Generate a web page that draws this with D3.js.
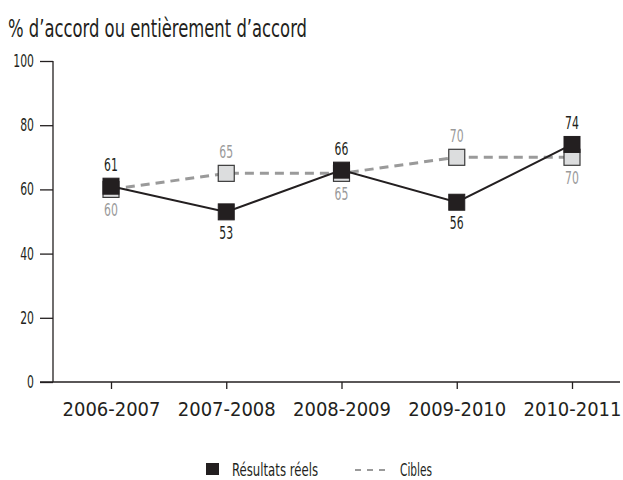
<!DOCTYPE html>
<html>
<head>
<meta charset="utf-8">
<script src="https://cdn.jsdelivr.net/npm/d3@7"></script>
<style>
  html, body { margin: 0; padding: 0; background: #fff; }
  svg { display: block; }
  text { font-family: "DejaVu Sans", sans-serif; font-stretch: condensed; }
</style>
</head>
<body>
<svg id="chart" width="623" height="480"></svg>
<script>
// Survey periods and values
const periods = ["2006-2007", "2007-2008", "2008-2009", "2009-2010", "2010-2011"];
const actualValues = [61, 53, 66, 56, 74];   // Résultats réels
const targetValues = [60, 65, 65, 70, 70];   // Cibles
const yTicks = [0, 20, 40, 60, 80, 100];

const titleText = "% d\u2019accord ou entièrement d\u2019accord";
const legendActual = "Résultats réels";
const legendTarget = "Cibles";

const svg = d3.select("#chart");

const black = "#231f20";
const grey = "#9a9a9a";
const lightFill = "#dcddde";

// Squeeze text into the narrow width of a condensed face
const fit = (sel, w) => sel.attr("textLength", w).attr("lengthAdjust", "spacingAndGlyphs");
const digitW = 6.9;

const x = d3.scalePoint().domain(periods).range([111, 572]);
const y = d3.scaleLinear().domain([0, 100]).range([382, 61]);

// Title
svg.append("text")
  .attr("x", 8).attr("y", 37)
  .attr("font-size", 25)
  .attr("fill", black)
  .text(titleText)
  .call(fit, 299);

// Y axis
const yAxis = svg.append("g").attr("transform", "translate(53,0)")
  .call(d3.axisLeft(y).tickValues(yTicks).tickSize(13).tickPadding(6));
yAxis.select(".domain").attr("stroke", black).attr("stroke-width", 1.3).attr("d", `M0,${y(100)}V${y(0)}`);
yAxis.selectAll(".tick line").attr("stroke", black).attr("stroke-width", 1.3);
yAxis.selectAll(".tick text").attr("font-size", 17).attr("fill", black)
  .attr("font-family", null)
  .each(function (d) { fit(d3.select(this), String(d).length * digitW); });

// X axis
const xAxis = svg.append("g").attr("transform", `translate(0,${y(0)})`)
  .call(d3.axisBottom(x).tickSize(7).tickPadding(13));
xAxis.select(".domain").attr("stroke", black).attr("stroke-width", 1.3).attr("d", "M40,0H620");
xAxis.selectAll(".tick line").attr("stroke", black).attr("stroke-width", 1.3);
xAxis.selectAll(".tick text").attr("font-size", 20).attr("fill", black)
  .attr("font-family", null)
  .call(fit, 98);

const line = d3.line().x((d, i) => x(periods[i])).y(d => y(d));
const sq = 16;

// Targets: dashed line with light squares
svg.append("path")
  .datum(targetValues)
  .attr("d", line)
  .attr("fill", "none")
  .attr("stroke", grey)
  .attr("stroke-width", 3)
  .attr("stroke-dasharray", "9,6");

svg.selectAll("rect.target")
  .data(targetValues)
  .join("rect")
  .attr("class", "target")
  .attr("x", (d, i) => x(periods[i]) - sq / 2)
  .attr("y", d => y(d) - sq / 2)
  .attr("width", sq).attr("height", sq)
  .attr("fill", lightFill)
  .attr("stroke", "#3a3a3a")
  .attr("stroke-width", 1.2);

// Actual results: solid line with dark squares
svg.append("path")
  .datum(actualValues)
  .attr("d", line)
  .attr("fill", "none")
  .attr("stroke", black)
  .attr("stroke-width", 2);

svg.selectAll("rect.actual")
  .data(actualValues)
  .join("rect")
  .attr("class", "actual")
  .attr("x", (d, i) => x(periods[i]) - sq / 2)
  .attr("y", d => y(d) - sq / 2)
  .attr("width", sq).attr("height", sq)
  .attr("fill", black)
  .attr("stroke", black)
  .attr("stroke-width", 1);

// Value labels: each placed on the side away from the other series
const labelAbove = (v) => y(v) - sq / 2 - 7;
const labelBelow = (v) => y(v) + sq / 2 + 19;

svg.selectAll("text.actual-lbl")
  .data(actualValues)
  .join("text")
  .attr("class", "actual-lbl")
  .attr("x", (d, i) => x(periods[i]))
  .attr("y", (d, i) => d >= targetValues[i] ? labelAbove(d) : labelBelow(d))
  .attr("text-anchor", "middle")
  .attr("font-size", 18)
  .attr("fill", black)
  .text(d => d)
  .call(fit, 2 * digitW);

svg.selectAll("text.target-lbl")
  .data(targetValues)
  .join("text")
  .attr("class", "target-lbl")
  .attr("x", (d, i) => x(periods[i]))
  .attr("y", (d, i) => d > actualValues[i] ? labelAbove(d) : labelBelow(d))
  .attr("text-anchor", "middle")
  .attr("font-size", 18)
  .attr("fill", grey)
  .text(d => d)
  .call(fit, 2 * digitW);

// Legend
const legend = svg.append("g");
legend.append("rect")
  .attr("x", 206).attr("y", 463).attr("width", 13).attr("height", 12)
  .attr("fill", black);
legend.append("text")
  .attr("x", 232).attr("y", 476)
  .attr("font-size", 17).attr("fill", black)
  .text(legendActual)
  .call(fit, 86);
legend.append("line")
  .attr("x1", 355).attr("x2", 385).attr("y1", 470).attr("y2", 470)
  .attr("stroke", grey).attr("stroke-width", 2)
  .attr("stroke-dasharray", "6,6");
legend.append("text")
  .attr("x", 400).attr("y", 476)
  .attr("font-size", 17).attr("fill", black)
  .text(legendTarget)
  .call(fit, 32);
</script>
</body>
</html>
